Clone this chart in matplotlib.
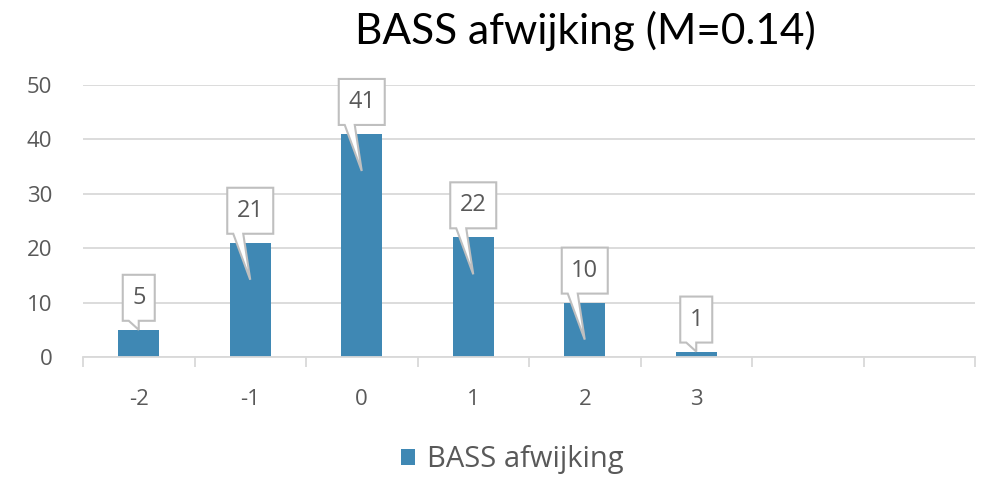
import matplotlib.pyplot as plt
import numpy as np
from matplotlib.patches import Polygon
from matplotlib.transforms import IdentityTransform

categories = ["-2", "-1", "0", "1", "2", "3", "", ""]
values = [5, 21, 41, 22, 10, 1, None, None]
series_name = "BASS afwijking"
title = "BASS afwijking (M=0.14)"

bar_color = "#3F88B4"
grid_color = "#D9D9D9"
text_color = "#595959"

plt.rcParams['font.family'] = ['Open Sans', 'DejaVu Sans']

fig = plt.figure(figsize=(9.87, 4.78), dpi=100)
ax = fig.add_axes([83 / 987, 1 - 357 / 478, (975 - 83) / 987, (357 - 85) / 478])

x = np.arange(len(categories))
heights = [v if v is not None else 0 for v in values]
bars = ax.bar(x, heights, width=0.37, color=bar_color, zorder=3, label=series_name)
for b, v in zip(bars, values):
    if v is None:
        b.set_visible(False)

ax.set_xlim(-0.5, len(categories) - 0.5)
ax.set_ylim(0, 50)
ax.set_yticks(np.arange(0, 51, 10))
ax.yaxis.grid(True, color=grid_color, lw=1.3, zorder=0)
ax.tick_params(axis='y', length=0, pad=22, labelsize=16, labelcolor=text_color)
for s in ['top', 'right', 'left']:
    ax.spines[s].set_visible(False)
ax.spines['bottom'].set_color(grid_color)
ax.spines['bottom'].set_linewidth(1.3)
ax.spines['bottom'].set_zorder(4)

# ticks between categories, labels centred
ax.set_xticks(np.arange(-0.5, len(categories), 1.0))
ax.set_xticklabels([])
ax.tick_params(axis='x', which='major', length=7.5, width=1.3, color=grid_color)
ax.set_xticks(x, minor=True)
ax.set_xticklabels(categories, minor=True)
ax.tick_params(axis='x', which='minor', length=0, pad=23, labelsize=16, labelcolor=text_color)

fig.text(585 / 987, 1 - 31 / 478, title, ha='center', va='center',
         fontsize=30.5, color='black', family=['Lato', 'DejaVu Sans'])

fig.legend(handles=[bars], labels=[series_name], loc='center',
           bbox_to_anchor=(512 / 987, 1 - 460 / 478), frameon=False,
           fontsize=21, labelcolor=text_color, handlelength=0.5, handleheight=0.5,
           handletextpad=0.4)

# callout data labels
for xi, v in zip(x, values):
    if v is None:
        continue
    cx, top = ax.transData.transform((xi, v))
    _, base = ax.transData.transform((xi, 0))
    label = str(v)
    hw = 23 if len(label) > 1 else 16
    gap = 9
    bh = 46
    depth = 37 if (top - base) > 45 else 0
    bl = cx - hw
    verts = [
        (bl, top + gap + bh),
        (cx + hw, top + gap + bh),
        (cx + hw, top + gap),
        (bl + 16, top + gap),
        (cx, top - depth),
        (bl + 6, top + gap),
        (bl, top + gap),
    ]
    fig.add_artist(Polygon(verts, closed=True, transform=IdentityTransform(),
                           facecolor='white', edgecolor='#BFBFBF', lw=1.5, zorder=5))
    fig.text(cx / fig.dpi / 9.87, (top + gap + bh / 2) / fig.dpi / 4.78, label,
             ha='center', va='center', fontsize=17, color=text_color, zorder=6)

fig.savefig("out.png", dpi=100)
